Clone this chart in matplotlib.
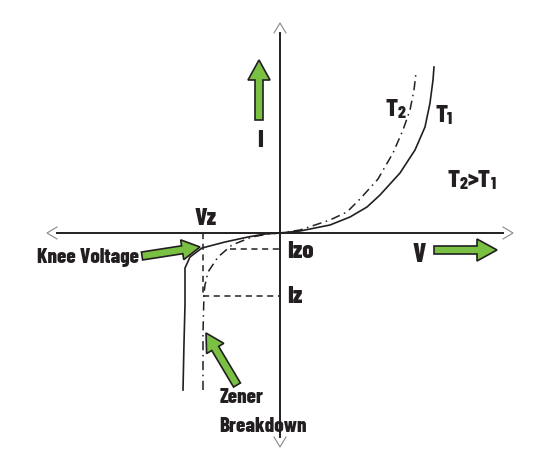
import matplotlib.pyplot as plt
from matplotlib.patches import FancyArrow

# diagram units: V to the right, I upward, origin where the axes cross
t1_v = [-97, -96, -95, -95, -90, -78, -55, -32, -15, 0, 20, 50, 70, 87, 100, 120, 135, 145, 150, 153, 154]
t1_i = [-157, -110, -72, -35, -24, -15, -9, -4, -1, 0, 2, 8, 16, 26, 38, 60, 83, 106, 130, 153, 166]
t2_v = [-77, -77, -76, -75, -72, -62, -48, -28, -12, 0, 20, 50, 67, 80, 98, 113, 123, 130, 134, 136]
t2_i = [-157, -100, -60, -52, -39, -24, -12, -4, -1, 0, 3, 13, 21, 34, 54, 80, 103, 123, 143, 160]

vz = -77     # zener voltage
izo = -16    # knee current
iz = -63     # test current

green = '#7ac143'
ink = '#231f20'
font = dict(family=['Barlow Condensed', 'DejaVu Sans'], fontweight=800, color=ink)

fig = plt.figure(figsize=(5.6, 4.66), dpi=100)
ax = fig.add_axes([0, 0, 1, 1])
ax.set_xlim(-280, 280)
ax.set_ylim(-233, 233)
ax.axis('off')

# axes with open arrow heads
ax.plot([-223, 223], [0, 0], color=ink, lw=1.4)
ax.plot([0, 0], [-204, 200], color=ink, lw=1.4)
ax.plot([-223, -233, -223], [6, 0, -6], color='#888888', lw=0.8)
ax.plot([223, 233, 223], [6, 0, -6], color='#888888', lw=0.8)
ax.plot([-6, 0, 6], [200, 210, 200], color='#888888', lw=0.8)
ax.plot([-6, 0, 6], [-204, -214, -204], color='#888888', lw=0.8)

# characteristic curves
ax.plot(t1_v, t1_i, color=ink, lw=1.2, solid_joinstyle='round')
ax.plot(t2_v, t2_i, color=ink, lw=1.1, ls=(0, (6, 3, 1, 3)))

# reference lines
ax.plot([vz, vz], [0, iz], color=ink, lw=1.1, ls=(0, (4, 3)))
ax.plot([-50, 0], [izo, izo], color=ink, lw=1.1, ls=(0, (4, 3)))
ax.plot([vz, 0], [iz, iz], color=ink, lw=1.1, ls=(0, (4, 3)))


def green_arrow(x0, y0, x1, y1, w=8, hw=22, hl=20):
    ax.add_patch(FancyArrow(x0, y0, x1 - x0, y1 - y0, width=w, head_width=hw, head_length=hl,
                            length_includes_head=True, facecolor=green, edgecolor=ink, lw=1.2))


green_arrow(-21, 113, -21, 173)
green_arrow(154, -17, 217, -17)
green_arrow(-138, -23, -80, -14, hw=20, hl=18)
green_arrow(-43, -152, -74, -100, hw=20, hl=18)


def sub_text(x, y, parts, size):
    # alternate normal / subscript pieces, laid end to end
    t = ax.text(x, y, parts[0], fontsize=size, va='baseline', **font)
    for k, p in enumerate(parts[1:]):
        s = size * 0.7 if k % 2 == 0 else size
        t = ax.annotate(p, xy=(1, 0), xycoords=t, fontsize=s, va='bottom', **font)


ax.text(-85, 8, 'Vz', fontsize=18, va='baseline', **font)
ax.text(7, -25, 'Izo', fontsize=18, va='baseline', **font)
ax.text(7, -70, 'Iz', fontsize=18, va='baseline', **font)
ax.text(-23, 86, 'I', fontsize=18, va='baseline', **font)
ax.text(133, -29, 'V', fontsize=19, va='baseline', **font)
ax.text(-243, -30, 'Knee Voltage', fontsize=15, va='baseline', **font)
ax.text(-60, -170, 'Zener', fontsize=15, va='baseline', **font)
ax.text(-61, -199, 'Breakdown', fontsize=15, va='baseline', **font)
sub_text(106, 117, ['T', '2'], 18)
sub_text(155, 111, ['T', '1'], 18)
sub_text(168, 46, ['T', '2', '>T', '1'], 18)

fig.savefig('out.png', dpi=100)
